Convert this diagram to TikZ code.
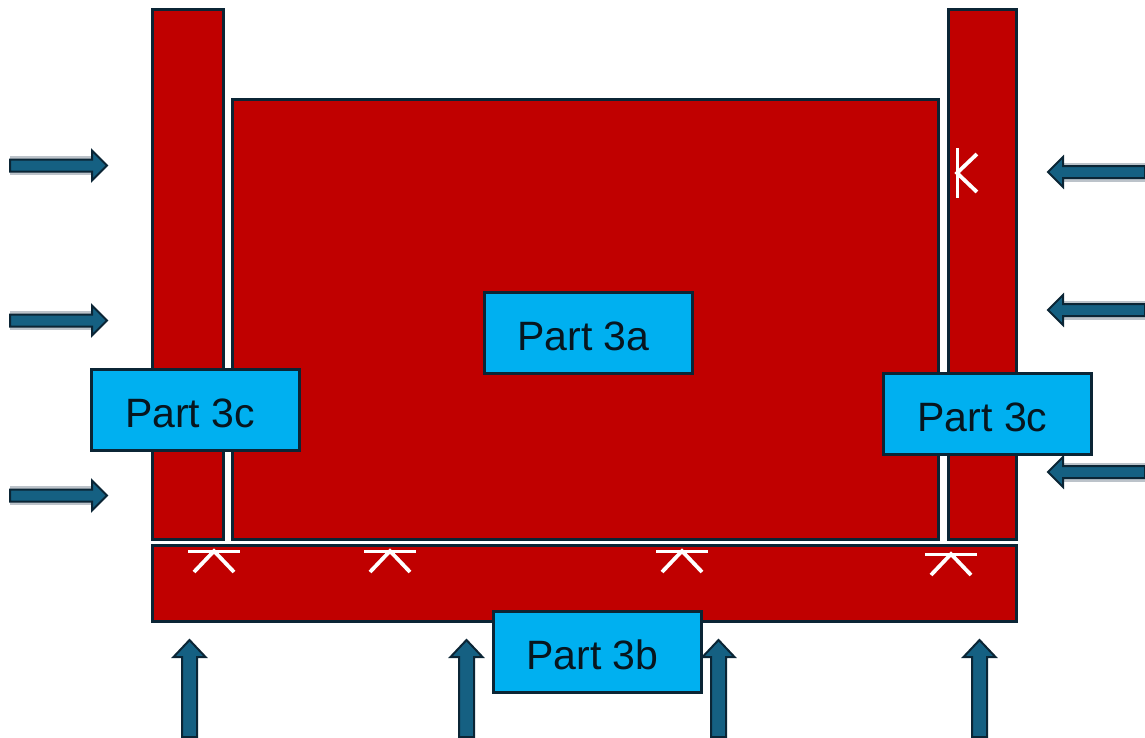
\documentclass[tikz,border=0pt]{standalone}
\usepackage{fontspec}
\setmainfont{Liberation Sans}
\definecolor{partred}{HTML}{C00000}
\definecolor{edgedark}{HTML}{0B2535}
\definecolor{textdark}{HTML}{07161F}
\definecolor{labelcyan}{HTML}{00B0F0}
\definecolor{arrowblue}{HTML}{156082}
\definecolor{shadowgrey}{HTML}{BCC3CA}
\tikzset{
  part/.style={draw=edgedark, line width=3pt, fill=partred, inner sep=0pt, rectangle},
  partlabel/.style={draw=edgedark, line width=3pt, fill=labelcyan, inner sep=0pt, rectangle,
    minimum width=208pt, minimum height=81pt, text=textdark, font=\fontsize{41}{43}\selectfont},
  pics/harrow/.style={code={
    \fill[shadowgrey] (0,-9.5) rectangle (82,9.5);
    \draw[edgedark, line width=2pt, fill=arrowblue, line join=miter]
      (0,-6) -- (82,-6) -- (82,-15) -- (97,0) -- (82,15) -- (82,6) -- (0,6) -- cycle;
  }},
  pics/varrow/.style={code={
    \draw[edgedark, line width=2pt, fill=arrowblue, line join=miter]
      (0,-7.5) -- (80,-7.5) -- (80,-16) -- (97,0) -- (80,16) -- (80,7.5) -- (0,7.5) -- cycle;
  }},
  pics/weldmark/.style={code={
    \draw[white, line width=3pt] (-26,0) -- (26,0);
    \draw[white, line width=3.8pt, line join=miter] (-20,21) -- (0,0) -- (20,21);
  }}
}
\newcommand{\lbltext}[1]{\makebox[0pt]{\raisebox{-17.5pt}[0pt][0pt]{\hspace*{-10pt}#1}}}
\begin{document}
\begin{tikzpicture}[x=1pt, y=-1pt]
\useasboundingbox (0,0) rectangle (1145,737);
% main parts
\node[part, minimum width=71pt, minimum height=530pt] (pillarL) at (188,274.5) {};
\node[part, minimum width=706pt, minimum height=440pt] (main) at (585.5,319.5) {};
\node[part, minimum width=68pt, minimum height=530pt] (pillarR) at (982.5,274.5) {};
\node[part, minimum width=864pt, minimum height=76pt] (base) at (584.5,583.5) {};
% weld marks
\pic at (214,551) {weldmark};
\pic at (390,551) {weldmark};
\pic at (682,551) {weldmark};
\pic at (951,554) {weldmark};
\pic[rotate=90, scale=0.95] at (957,173) {weldmark};
% labels
\node[partlabel] (lbl3a) at (588.5,332.5) {\lbltext{Part 3a}};
\node[partlabel] (lbl3cL) at (195,410) {\lbltext{Part 3c}};
\node[partlabel] (lbl3cR) at (987.5,413.5) {\lbltext{Part 3c}};
\node[partlabel] (lbl3b) at (597.5,651.5) {\lbltext{Part 3b}};
% load arrows
\coordinate (la1) at (10,165.5);
\coordinate (la2) at (10,320.5);
\coordinate (la3) at (10,495.5);
\coordinate (ra1) at (1145,172);
\coordinate (ra2) at (1145,310);
\coordinate (ra3) at (1145,472);
\coordinate (ba1) at (189.5,737);
\coordinate (ba2) at (466.5,737);
\coordinate (ba3) at (718.5,737);
\coordinate (ba4) at (979.5,737);
\pic at (la1) {harrow};
\pic at (la2) {harrow};
\pic at (la3) {harrow};
\pic[rotate=180] at (ra1) {harrow};
\pic[rotate=180] at (ra2) {harrow};
\pic[rotate=180] at (ra3) {harrow};
\pic[rotate=90] at (ba1) {varrow};
\pic[rotate=90] at (ba2) {varrow};
\pic[rotate=90] at (ba3) {varrow};
\pic[rotate=90] at (ba4) {varrow};
\end{tikzpicture}
\end{document}
